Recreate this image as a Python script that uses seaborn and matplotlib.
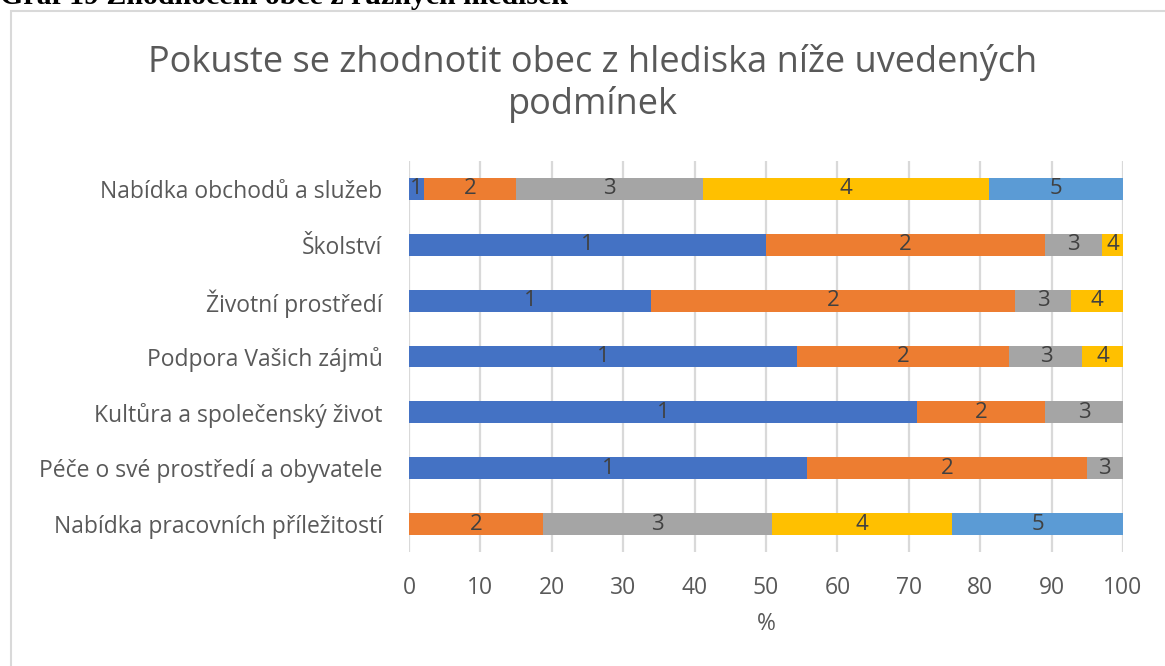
import numpy as np
import pandas as pd
import seaborn as sns
import matplotlib.pyplot as plt
from matplotlib.patches import Rectangle

categories = ['Nabídka obchodů a služeb', 'Školství', 'Životní prostředí',
              'Podpora Vašich zájmů', 'Kultůra a společenský život',
              'Péče o své prostředí a obyvatele', 'Nabídka pracovních příležitostí']
grade_1 = [2.1, 50.0, 33.9, 54.4, 71.1, 55.8, 0.0]
grade_2 = [12.9, 39.1, 51.0, 29.7, 18.0, 39.1, 18.8]
grade_3 = [26.2, 8.0, 7.8, 10.2, 10.9, 5.1, 32.0]
grade_4 = [40.0, 2.9, 7.3, 5.7, 0.0, 0.0, 25.3]
grade_5 = [18.8, 0.0, 0.0, 0.0, 0.0, 0.0, 23.9]
grades = ['1', '2', '3', '4', '5']
colors = ['#4472C4', '#ED7D31', '#A5A5A5', '#FFC000', '#5B9BD5']
xticks = [0, 10, 20, 30, 40, 50, 60, 70, 80, 90, 100]

df = pd.DataFrame({'kategorie': categories, '1': grade_1, '2': grade_2,
                   '3': grade_3, '4': grade_4, '5': grade_5})
cum = df[grades].cumsum(axis=1)

sns.set_theme(style='white')
plt.rcParams['font.family'] = ['Open Sans', 'DejaVu Sans']

fig = plt.figure(figsize=(11.65, 6.66), dpi=100)
ax = fig.add_axes([409 / 1165, 1 - 552 / 666, 714 / 1165, 391 / 666])

# stacked bars: draw cumulative totals from the largest down
for g, c in reversed(list(zip(grades, colors))):
    sns.barplot(x=cum[g], y=df['kategorie'], color=c, width=0.39,
                orient='h', ax=ax, saturation=1, linewidth=0)

# segment labels
for i in range(len(categories)):
    left = 0
    for g in grades:
        v = df[g][i]
        if v > 0:
            ax.text(left + v / 2, i, g, ha='center', va='center',
                    fontsize=16, color='#404040')
        left += v

ax.set_xlim(0, 100)
ax.set_ylim(6.5, -0.5)
ax.set_xticks(xticks)
ax.grid(axis='x', color='#D9D9D9', linewidth=1.6)
ax.set_axisbelow(True)
for s in ax.spines.values():
    s.set_visible(False)
ax.tick_params(axis='y', length=0, pad=19, labelsize=16.5, labelcolor='#595959')
ax.tick_params(axis='x', length=0, pad=17, labelsize=16.5, labelcolor='#595959')
ax.set_ylabel('')
ax.set_xlabel('%', fontsize=16.5, color='#595959', labelpad=9)

fig.suptitle('Pokuste se zhodnotit obec z hlediska níže uvedených\npodmínek',
             x=593 / 1165, y=1 - 44 / 666, fontsize=26, color='#595959',
             linespacing=1.17)

fig.text(0.0, 1 - 4 / 666, 'Graf 19 Zhodnocení obce z různých hledisek',
         family=['Liberation Serif'], fontweight='bold', fontsize=21.5,
         va='baseline', ha='left', color='black')

fig.patches.append(Rectangle((11 / 1165, -0.1), 1.2, 1 - 11 / 666 + 0.1,
                             transform=fig.transFigure, fill=False,
                             edgecolor='#D9D9D9', linewidth=1.5))

fig.savefig('out.png', dpi=100)
